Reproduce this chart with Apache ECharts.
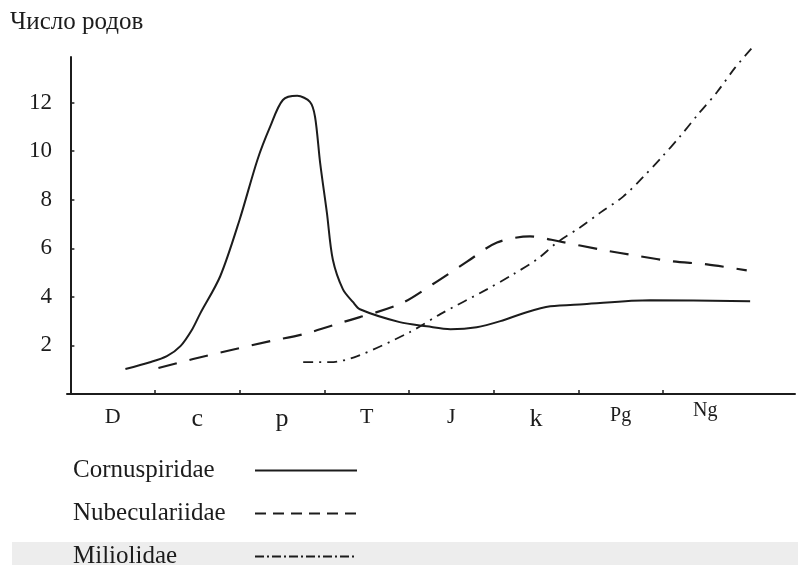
<!DOCTYPE html>
<html>
<head>
<meta charset="utf-8">
<script src="https://cdn.jsdelivr.net/npm/echarts@6/dist/echarts.min.js"></script>
<style>
  html, body { margin: 0; padding: 0; background: #fff; }
  #chart { width: 798px; height: 565px; }
</style>
</head>
<body>
<div id="chart"></div>
<script>
// Geological periods (each label sits in the middle of its band)
const periods = ['D', 'c', 'p', 'T', 'J', 'k', 'Pg', 'Ng'];
const periodCenters = [0.5, 1.5, 2.5, 3.5, 4.5, 5.5, 6.5, 7.5];
const periodBounds = [1, 2, 3, 4, 5, 6, 7];
const yTicks = [2, 4, 6, 8, 10, 12];

// Number of genera through time, x in period units
const cornuspiridaeX = [0.65, 0.94, 1.14, 1.30, 1.44, 1.53, 1.77, 2.00, 2.21, 2.36, 2.51, 2.68, 2.83, 2.89, 2.95, 3.03, 3.10, 3.22, 3.34, 3.42, 3.89, 4.21, 4.49, 4.80, 5.08, 5.39, 5.67, 6.06, 6.85, 8.03];
const cornuspiridaeY = [1.03, 1.31, 1.56, 1.97, 2.67, 3.29, 4.85, 7.19, 9.65, 11.01, 12.11, 12.28, 12.03, 11.42, 9.53, 7.47, 5.54, 4.31, 3.78, 3.49, 2.96, 2.79, 2.67, 2.75, 3.00, 3.37, 3.61, 3.70, 3.86, 3.82];

const nubeculariidaeX = [1.04, 1.45, 1.85, 2.36, 2.75, 3.22, 3.89, 4.28, 4.69, 5.04, 5.43, 5.78, 6.26, 6.73, 7.12, 7.52, 7.99];
const nubeculariidaeY = [1.07, 1.44, 1.77, 2.18, 2.46, 2.96, 3.70, 4.52, 5.46, 6.24, 6.49, 6.28, 5.95, 5.67, 5.46, 5.34, 5.09];

const miliolidaeX = [2.75, 3.07, 3.39, 4.01, 4.37, 4.92, 5.23, 5.51, 5.75, 6.02, 6.26, 6.53, 6.77, 6.99, 7.20, 7.41, 7.64, 7.85, 8.05];
const miliolidaeY = [1.31, 1.31, 1.56, 2.55, 3.29, 4.31, 4.93, 5.54, 6.24, 6.86, 7.47, 8.13, 8.95, 9.77, 10.60, 11.50, 12.44, 13.43, 14.25];

const zip = (xs, ys) => xs.map((x, i) => [x, ys[i]]);

const ink = '#1c1c1c';
const serif = '"Liberation Serif", "DejaVu Serif", serif';

const chart = echarts.init(document.getElementById('chart'), null, { renderer: 'canvas' });

chart.setOption({
  animation: false,
  backgroundColor: '#ffffff',
  title: {
    text: 'Число родов',
    left: 5,
    top: 5,
    textStyle: { fontFamily: serif, fontSize: 25, fontWeight: 'normal', color: ink }
  },
  graphic: [
    {
      type: 'rect',
      z: -10,
      shape: { x: 12, y: 542, width: 786, height: 23 },
      style: { fill: '#ededed' }
    }
  ],
  legend: {
    orient: 'vertical',
    left: 73,
    top: 458,
    height: 130,
    padding: 0,
    align: 'right',
    itemWidth: 102,
    itemHeight: 14,
    itemGap: 18,
    selectedMode: false,
    itemStyle: { opacity: 0, color: 'rgba(0,0,0,0)', borderWidth: 0 },
    formatter: name => '{n|' + name + '}',
    textStyle: {
      fontFamily: serif,
      fontSize: 25,
      color: ink,
      rich: { n: { width: 177, align: 'left', fontFamily: serif, fontSize: 25, lineHeight: 25, color: ink } }
    },
    data: [
      { name: 'Cornuspiridae', lineStyle: { type: 'solid', width: 2 } },
      { name: 'Nubeculariidae', lineStyle: { type: [11, 7], width: 2 } },
      { name: 'Miliolidae', lineStyle: { type: [9, 3, 2, 3], width: 1.8 } }
    ]
  },
  grid: { left: 67, right: 3, top: 57, bottom: 171, containLabel: false },
  xAxis: {
    type: 'value',
    min: -0.04,
    max: 8.56,
    splitLine: { show: false },
    axisLine: { show: true, onZero: false, lineStyle: { color: ink, width: 2 } },
    axisTick: { show: true, inside: true, length: 4, customValues: periodBounds, lineStyle: { color: ink, width: 1.5 } },
    axisLabel: {
      customValues: periodCenters,
      margin: 12,
      fontFamily: serif,
      fontSize: 22,
      color: ink,
      formatter: v => {
        const i = periodCenters.indexOf(Math.round(v * 10) / 10);
        if (i < 0) return '';
        const s = periods[i];
        if (s === 'Ng') return '{ng|' + s + '}';
        if (s.length > 1) return '{sm|' + s + '}';
        if (s === s.toLowerCase()) return '{lc|' + s + '}';
        return s;
      },
      rich: {
        sm: { fontFamily: serif, fontSize: 20, color: ink },
        ng: { fontFamily: serif, fontSize: 20, color: ink, lineHeight: 10 },
        lc: { fontFamily: serif, fontSize: 26, color: ink }
      }
    }
  },
  yAxis: {
    type: 'value',
    min: 0,
    max: 13.88,
    splitLine: { show: false },
    axisLine: { show: true, lineStyle: { color: ink, width: 2 } },
    axisTick: { show: true, inside: true, length: 4, customValues: yTicks, lineStyle: { color: ink, width: 1.5 } },
    axisLabel: {
      customValues: yTicks,
      margin: 15,
      fontFamily: serif,
      fontSize: 23,
      color: ink
    }
  },
  series: [
    {
      name: 'Cornuspiridae',
      type: 'line',
      data: zip(cornuspiridaeX, cornuspiridaeY),
      smooth: 0.3,
      symbol: 'none',
      clip: false,
      color: ink,
      lineStyle: { color: ink, width: 2, type: 'solid' }
    },
    {
      name: 'Nubeculariidae',
      type: 'line',
      data: zip(nubeculariidaeX, nubeculariidaeY),
      smooth: 0.3,
      symbol: 'none',
      clip: false,
      color: ink,
      lineStyle: { color: ink, width: 2.2, type: [19, 13] }
    },
    {
      name: 'Miliolidae',
      type: 'line',
      data: zip(miliolidaeX, miliolidaeY),
      smooth: 0.3,
      symbol: 'none',
      clip: false,
      color: ink,
      lineStyle: { color: ink, width: 1.8, type: [10, 6, 2, 6] }
    }
  ]
});
</script>
</body>
</html>
